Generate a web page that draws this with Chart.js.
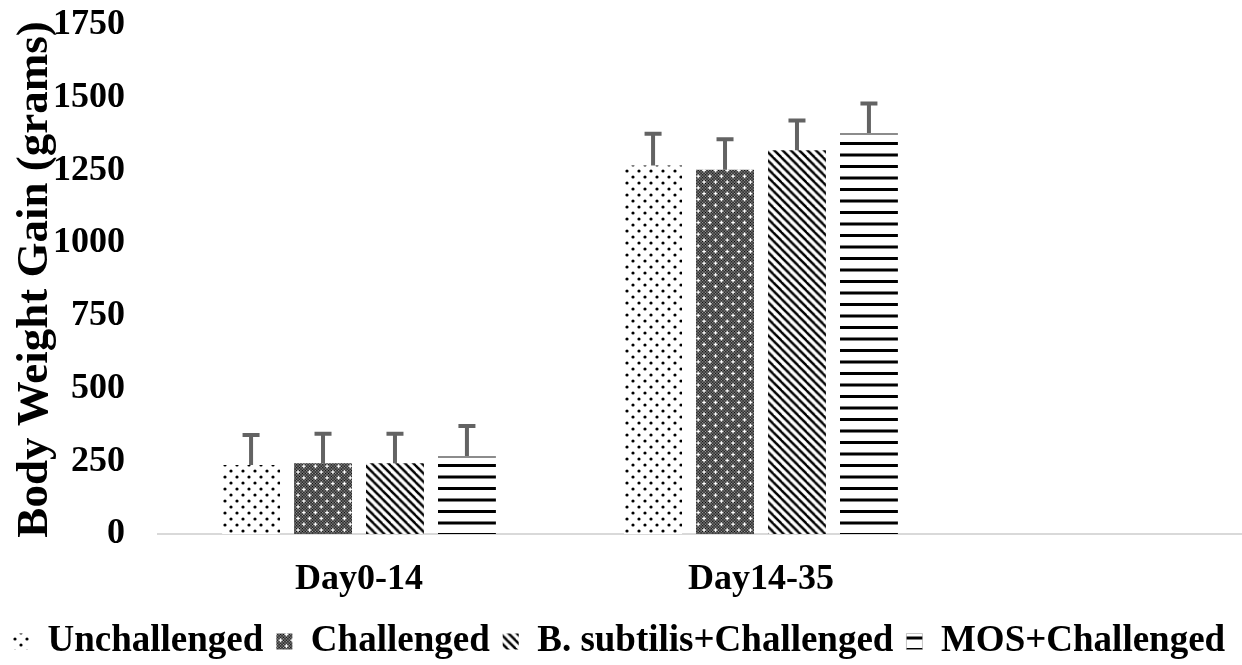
<!DOCTYPE html>
<html>
<head>
<meta charset="utf-8">
<script src="https://cdn.jsdelivr.net/npm/chart.js@4.4.1/dist/chart.umd.min.js"></script>
<style>
  html, body { margin: 0; padding: 0; background: #fff; overflow: hidden; }
  #wrap { position: absolute; left: 0; top: 0; width: 1380px; height: 670px; }
</style>
</head>
<body>
<div id="wrap"><canvas id="chart" width="1380" height="670"></canvas></div>
<script>
// Body weight gain (g) per period, mean with upper error bar
const categories = ['Day0-14', 'Day14-35', ''];
const seriesNames = ['Unchallenged', 'Challenged', 'B. subtilis+Challenged', 'MOS+Challenged'];
const unchallenged = [237, 1267, null];
const challenged = [243, 1252, null];
const bSubtilis = [243, 1319, null];
const mos = [268, 1379, null];
const unchallengedErr = [103, 109, null];
const challengedErr = [102, 105, null];
const bSubtilisErr = [102, 103, null];
const mosErr = [103, 101, null];
const yTicks = [0, 250, 500, 750, 1000, 1250, 1500, 1750];

const FONT = "'Liberation Serif', 'Times New Roman', serif";
const canvas = document.getElementById('chart');
const ctx = canvas.getContext('2d');

function tilePattern(w, h, draw, matrix) {
  const c = document.createElement('canvas');
  c.width = w; c.height = h;
  const g = c.getContext('2d');
  draw(g, w, h);
  const p = ctx.createPattern(c, 'repeat');
  if (matrix) p.setTransform(matrix);
  return p;
}

// sparse staggered dots
const dotFill = tilePattern(12, 12, (g) => {
  g.fillStyle = '#fff'; g.fillRect(0, 0, 12, 12);
  g.fillStyle = '#000';
  [[3, 3], [9, 9]].forEach(([x, y]) => { g.beginPath(); g.arc(x, y, 1.6, 0, Math.PI * 2); g.fill(); });
});

// dark fine checker with small white crosses
const checkFill = tilePattern(8, 8, (g) => {
  const img = g.createImageData(8, 8);
  const val = [];
  for (let y = 0; y < 8; y++) for (let x = 0; x < 8; x++) val[y * 8 + x] = (x + y) % 2 === 0 ? 0 : 160;
  [[1, 1], [5, 5]].forEach(([cx, cy]) => {
    [[0, 0], [1, 0], [-1, 0], [0, 1], [0, -1]].forEach(([dx, dy]) => {
      val[((cy + dy + 8) % 8) * 8 + ((cx + dx + 8) % 8)] = 255;
    });
  });
  for (let i = 0; i < 64; i++) {
    img.data[i * 4] = img.data[i * 4 + 1] = img.data[i * 4 + 2] = val[i];
    img.data[i * 4 + 3] = 255;
  }
  g.putImageData(img, 0, 0);
}, new DOMMatrix().scale(1.45));

// downward diagonal stripes
const diagFill = tilePattern(8, 8, (g) => {
  g.fillStyle = '#fff'; g.fillRect(0, 0, 8, 8);
  g.strokeStyle = '#000'; g.lineWidth = 2.3;
  for (let k = -1; k <= 1; k++) {
    g.beginPath(); g.moveTo(-2, -2 + 8 * k); g.lineTo(10, 10 + 8 * k); g.stroke();
  }
}, new DOMMatrix().scale(1.04));

// horizontal stripes
const hlineFill = tilePattern(4, 23, (g) => {
  g.fillStyle = '#fff'; g.fillRect(0, 0, 4, 23);
  g.fillStyle = '#000';
  g.fillRect(0, 0, 4, 3);
  g.fillRect(0, 11.5, 4, 3);
}, new DOMMatrix().translate(0, 4));

const errorBars = {
  id: 'errorBars',
  afterDatasetsDraw(chart) {
    const c = chart.ctx;
    const y = chart.scales.y;
    c.save();
    c.strokeStyle = '#636363';
    c.lineWidth = 4;
    c.lineCap = 'butt';
    chart.data.datasets.forEach((ds, i) => {
      const meta = chart.getDatasetMeta(i);
      meta.data.forEach((bar, j) => {
        const v = ds.data[j];
        const e = ds.errors[j];
        if (v == null || e == null) return;
        const y0 = y.getPixelForValue(v);
        const y1 = y.getPixelForValue(v + e);
        c.beginPath();
        c.moveTo(bar.x, y0);
        c.lineTo(bar.x, y1);
        c.moveTo(bar.x - 8.5, y1);
        c.lineTo(bar.x + 8.5, y1);
        c.stroke();
      });
    });
    c.restore();
  }
};

Chart.defaults.color = '#000';
Chart.defaults.font.family = FONT;

new Chart(ctx, {
  type: 'bar',
  data: {
    labels: categories,
    datasets: [
      { label: seriesNames[0], data: unchallenged, errors: unchallengedErr, backgroundColor: dotFill, borderWidth: 0 },
      { label: seriesNames[1], data: challenged, errors: challengedErr, backgroundColor: checkFill, borderWidth: 0 },
      { label: seriesNames[2], data: bSubtilis, errors: bSubtilisErr, backgroundColor: diagFill, borderWidth: 0 },
      { label: seriesNames[3], data: mos, errors: mosErr, backgroundColor: hlineFill,
        borderColor: '#8c8c8c', borderWidth: { top: 2, left: 0, right: 0, bottom: 0 } }
    ]
  },
  options: {
    responsive: false,
    animation: false,
    devicePixelRatio: 1,
    layout: { padding: { top: 25, right: 16, bottom: 0, left: 0 } },
    datasets: { bar: { barPercentage: 0.805, categoryPercentage: 0.716 } },
    plugins: {
      tooltip: { enabled: false },
      legend: {
        position: 'bottom',
        align: 'start',
        labels: {
          boxWidth: 16,
          boxHeight: 16,
          padding: 13,
          color: '#000',
          font: { size: 37, weight: 'bold', family: FONT }
        }
      }
    },
    scales: {
      x: {
        grid: { display: false, drawTicks: true, tickLength: 16 },
        border: { display: true, color: '#d9d9d9', width: 2 },
        ticks: {
          padding: 0,
          color: '#000',
          font: { size: 36, weight: 'bold', family: FONT, lineHeight: 1.667 }
        }
      },
      y: {
        min: 0,
        max: 1750,
        grid: { display: false, drawTicks: true, tickLength: 33 },
        border: { display: false },
        afterBuildTicks(scale) { scale.ticks = yTicks.map(v => ({ value: v })); },
        ticks: {
          padding: 0,
          color: '#000',
          font: { size: 36, weight: 'bold', family: FONT, lineHeight: 1 },
          callback: (v) => String(v)
        },
        title: {
          display: true,
          text: 'Body Weight Gain (grams)',
          color: '#000',
          padding: { top: 17, bottom: 0 },
          font: { size: 45, weight: 'bold', family: FONT, lineHeight: 0.8 }
        }
      }
    }
  },
  plugins: [errorBars]
});
</script>
</body>
</html>
